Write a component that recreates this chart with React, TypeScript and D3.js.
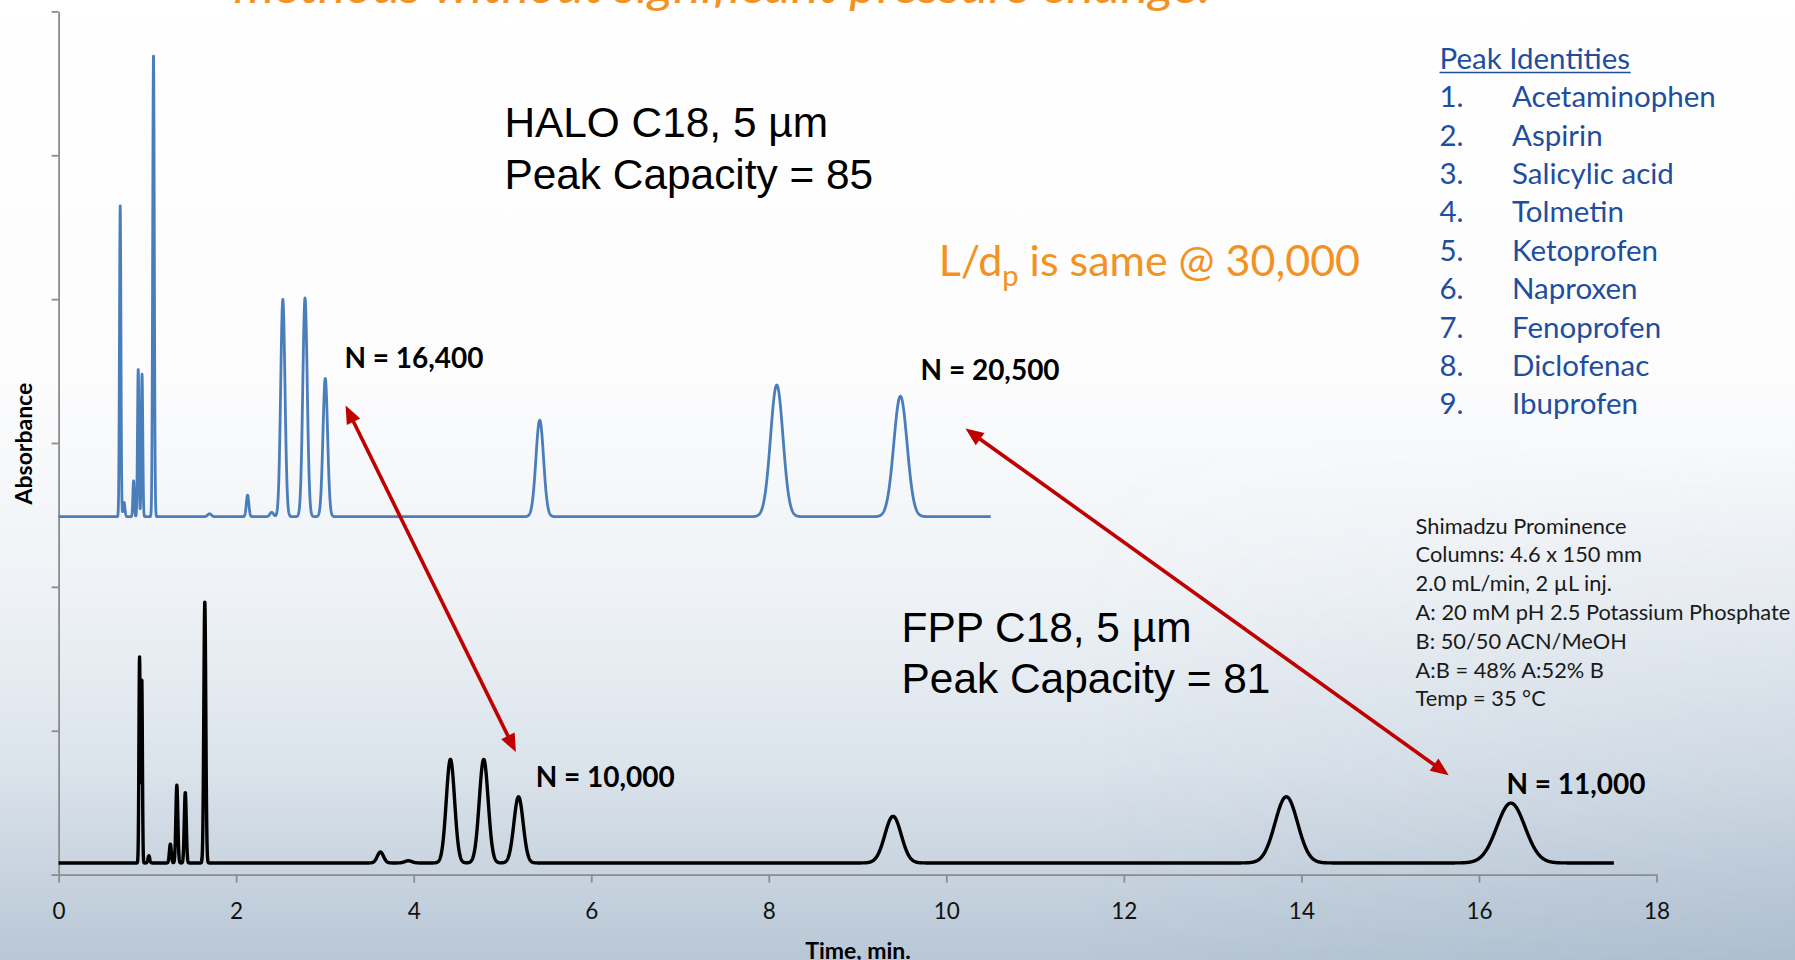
import React, { useEffect, useRef } from "react";
import * as d3 from "d3";

// ---------- data ----------
const xTicks = [0, 2, 4, 6, 8, 10, 12, 14, 16, 18];
const yTicks = [0, 1, 2, 3, 4, 5, 6];

// HALO C18 (blue) chromatogram: baseline offset and peak table
const haloBaseline = 2.488;
const haloEnd = 10.5;
const haloTimes = [0.694, 0.737, 0.845, 0.897, 0.94, 1.069, 1.7, 2.129, 2.4, 2.526, 2.776, 3.004, 5.42, 8.09, 9.483];
const haloHeights = [2.16, 0.1, 0.25, 1.03, 0.99, 3.22, 0.02, 0.15, 0.03, 1.51, 1.52, 0.96, 0.67, 0.915, 0.837];
const haloSigmas = [0.008, 0.01, 0.008, 0.008, 0.008, 0.009, 0.02, 0.014, 0.02, 0.024, 0.025, 0.026, 0.043, 0.07, 0.075];

// FPP C18 (black) chromatogram
const fppBaseline = 0.081;
const fppEnd = 17.52;
const fppTimes = [0.912, 0.937, 1.017, 1.259, 1.332, 1.427, 1.647, 3.625, 3.94, 4.414, 4.789, 5.181, 9.4, 13.83, 16.36];
const fppHeights = [1.43, 1.28, 0.05, 0.13, 0.54, 0.49, 1.82, 0.076, 0.015, 0.72, 0.72, 0.46, 0.324, 0.46, 0.416];
const fppSigmas = [0.007, 0.007, 0.01, 0.011, 0.011, 0.011, 0.011, 0.035, 0.04, 0.047, 0.05, 0.052, 0.092, 0.127, 0.158];

const peakNumbers = ["1.", "2.", "3.", "4.", "5.", "6.", "7.", "8.", "9."];
const peakNames = ["Acetaminophen", "Aspirin", "Salicylic acid", "Tolmetin", "Ketoprofen", "Naproxen", "Fenoprofen", "Diclofenac", "Ibuprofen"];

const conditions = [
  "Shimadzu Prominence",
  "Columns: 4.6 x 150 mm",
  "2.0 mL/min, 2 \u00b5L inj.",
  "A: 20 mM pH 2.5 Potassium Phosphate",
  "B: 50/50 ACN/MeOH",
  "A:B = 48% A:52% B",
  "Temp = 35 \u00b0C",
];

// plate-count labels [text, time, value]
const nLabels: [string, number, number][] = [
  ["N = 16,400", 3.22, 3.52],
  ["N = 20,500", 9.71, 3.44],
  ["N = 10,000", 5.375, 0.61],
  ["N = 11,000", 16.31, 0.56],
];
// double arrows [t1, v1, t2, v2]
const arrows: [number, number, number, number][] = [
  [3.233, 3.26, 5.151, 0.852],
  [10.216, 3.1, 15.659, 0.691],
];

// ---------- layout ----------
const W = 1795;
const H = 960;
const x = d3.scaleLinear().domain([0, 18]).range([58.6, 1656.5]);
const y = d3.scaleLinear().domain([0, 6]).range([874.6, 11.4]);

function trace(base: number, end: number, times: number[], heights: number[], sigmas: number[]) {
  const pts: [number, number][] = [];
  const step = 0.002;
  for (let t = 0; t <= end + 1e-9; t += step) {
    let v = base;
    for (let i = 0; i < times.length; i++) {
      const d = (t - times[i]) / sigmas[i];
      if (Math.abs(d) < 8) v += heights[i] * Math.exp(-0.5 * d * d);
    }
    pts.push([t, v]);
  }
  return pts;
}

const line = d3
  .line<[number, number]>()
  .x((d) => x(d[0]))
  .y((d) => y(d[1]));

const haloPath = line(trace(haloBaseline, haloEnd, haloTimes, haloHeights, haloSigmas)) || "";
const fppPath = line(trace(fppBaseline, fppEnd, fppTimes, fppHeights, fppSigmas)) || "";

const CAL = "Lato, 'Open Sans', sans-serif";
const ARIAL = "'Liberation Sans', Arial, sans-serif";
const ORANGE = "#F39223";
const BLUE = "#1F4E9F";
const RED = "#C00000";

function Arrow({ a }: { a: [number, number, number, number] }) {
  const x1 = x(a[0]), y1 = y(a[1]), x2 = x(a[2]), y2 = y(a[3]);
  const len = Math.hypot(x2 - x1, y2 - y1);
  const ux = (x2 - x1) / len, uy = (y2 - y1) / len;
  const hl = 18, hw = 7.5;
  const head = (tx: number, ty: number, dx: number, dy: number) => {
    const bx = tx - dx * hl, by = ty - dy * hl;
    return `M${tx},${ty}L${bx - dy * hw},${by + dx * hw}L${bx + dy * hw},${by - dx * hw}Z`;
  };
  return (
    <g>
      <line x1={x1 + ux * (hl - 2)} y1={y1 + uy * (hl - 2)} x2={x2 - ux * (hl - 2)} y2={y2 - uy * (hl - 2)} stroke={RED} strokeWidth={3.6} />
      <path d={head(x1, y1, -ux, -uy)} fill={RED} />
      <path d={head(x2, y2, ux, uy)} fill={RED} />
    </g>
  );
}

export default function App() {
  const xAxisRef = useRef<SVGGElement>(null);
  const yAxisRef = useRef<SVGGElement>(null);

  useEffect(() => {
    document.body.style.margin = "0";
    if (xAxisRef.current) {
      const g = d3.select(xAxisRef.current);
      g.call(d3.axisBottom(x).tickValues(xTicks).tickSize(8).tickSizeOuter(0).tickPadding(20).tickFormat(d3.format("d")) as any);
      g.select(".domain").attr("stroke", "#8C8C8C").attr("stroke-width", 1.8);
      g.selectAll(".tick line").attr("stroke", "#8C8C8C").attr("stroke-width", 1.8);
      g.selectAll(".tick text").attr("fill", "#111").style("font-family", CAL).style("font-size", "22.5px");
    }
    if (yAxisRef.current) {
      const g = d3.select(yAxisRef.current);
      g.call(d3.axisLeft(y).tickValues(yTicks).tickSize(7).tickSizeOuter(0).tickFormat(() => "") as any);
      g.select(".domain").attr("stroke", "#8C8C8C").attr("stroke-width", 1.8);
      g.selectAll(".tick line").attr("stroke", "#8C8C8C").attr("stroke-width", 1.8);
    }
  }, []);

  return (
    <svg width={W} height={H} style={{ position: "absolute", left: 0, top: 0, display: "block" }}>
      <defs>
        <linearGradient id="bg" x1="0" y1="0" x2="0" y2="1">
          <stop offset="0" stopColor="#ffffff" />
          <stop offset="0.4" stopColor="#fcfcfd" />
          <stop offset="0.62" stopColor="#eef2f6" />
          <stop offset="0.8" stopColor="#dbe3eb" />
          <stop offset="1" stopColor="#b8c7d6" />
        </linearGradient>
        <linearGradient id="bgx" x1="0" y1="0" x2="1" y2="0">
          <stop offset="0" stopColor="#8fa6bd" stopOpacity="0" />
          <stop offset="0.6" stopColor="#8fa6bd" stopOpacity="0" />
          <stop offset="1" stopColor="#8fa6bd" stopOpacity="0.25" />
        </linearGradient>
        <linearGradient id="fadeV" x1="0" y1="0" x2="0" y2="1">
          <stop offset="0" stopColor="#000" />
          <stop offset="0.45" stopColor="#000" />
          <stop offset="1" stopColor="#fff" />
        </linearGradient>
        <mask id="fadeMask" maskUnits="userSpaceOnUse" x={0} y={0} width={W} height={H}>
          <rect x={0} y={0} width={W} height={H} fill="url(#fadeV)" />
        </mask>
      </defs>
      <rect x={0} y={0} width={W} height={H} fill="url(#bg)" />
      <rect x={0} y={0} width={W} height={H} fill="url(#bgx)" mask="url(#fadeMask)" />

      {/* title (cut at top) */}
      <text x={233.5} y={3} fill={ORANGE} fontFamily={CAL} fontStyle="italic" fontSize={44} textLength={977} lengthAdjust="spacingAndGlyphs">
        methods without significant pressure change.
      </text>

      <g ref={yAxisRef} transform={`translate(${x(0)},0)`} />
      <g ref={xAxisRef} transform={`translate(0,${y(0)})`} />

      <path d={haloPath} fill="none" stroke="#4A7EBB" strokeWidth={2.8} strokeLinejoin="round" />
      <path d={fppPath} fill="none" stroke="#000" strokeWidth={3.4} strokeLinejoin="round" />

      {arrows.map((a, i) => (
        <Arrow key={i} a={a} />
      ))}

      {nLabels.map((l, i) => (
        <text key={i} x={x(l[1])} y={y(l[2])} fontFamily={CAL} fontWeight="bold" fontSize={28} fill="#000" textLength={139} lengthAdjust="spacingAndGlyphs">
          {l[0]}
        </text>
      ))}

      {/* column labels */}
      <g fontFamily={ARIAL} fontSize={42.4} fill="#000">
        <text x={504.4} y={137.4}>HALO C18, 5 µm</text>
        <text x={504.4} y={188.5}>Peak Capacity = 85</text>
        <text x={901.6} y={641.7}>FPP C18, 5 µm</text>
        <text x={901.6} y={693.3}>Peak Capacity = 81</text>
      </g>

      <text x={938.7} y={276} fontFamily={CAL} fontSize={43} fill={ORANGE}>
        L/d
        <tspan fontSize={29} dy={10}>p</tspan>
        <tspan dy={-10}> is same @ 30,000</tspan>
      </text>

      {/* peak identities */}
      <g fontFamily={CAL} fontSize={29.5} fill={BLUE}>
        <text x={1439.5} y={69}>Peak Identities</text>
        <line x1={1439.5} x2={1630.7} y1={72.5} y2={72.5} stroke={BLUE} strokeWidth={1.6} />
        {peakNames.map((n, i) => (
          <g key={n}>
            <text x={1439.5} y={107.2 + i * 38.4}>{peakNumbers[i]}</text>
            <text x={1512} y={107.2 + i * 38.4}>{n}</text>
          </g>
        ))}
      </g>

      {/* conditions */}
      <g fontFamily={CAL} fontSize={21.8} fill="#1a1a1a">
        {conditions.map((c, i) => (
          <text key={i} x={1415.6} y={533.5 + i * 28.8}>{c}</text>
        ))}
      </g>

      {/* axis titles */}
      <text x={858} y={959} textAnchor="middle" fontFamily={CAL} fontWeight="bold" fontSize={23} fill="#000">
        Time, min.
      </text>
      <text transform="translate(32,443.6) rotate(-90)" textAnchor="middle" fontFamily={CAL} fontWeight="bold" fontSize={23} fill="#000">
        Absorbance
      </text>
    </svg>
  );
}
